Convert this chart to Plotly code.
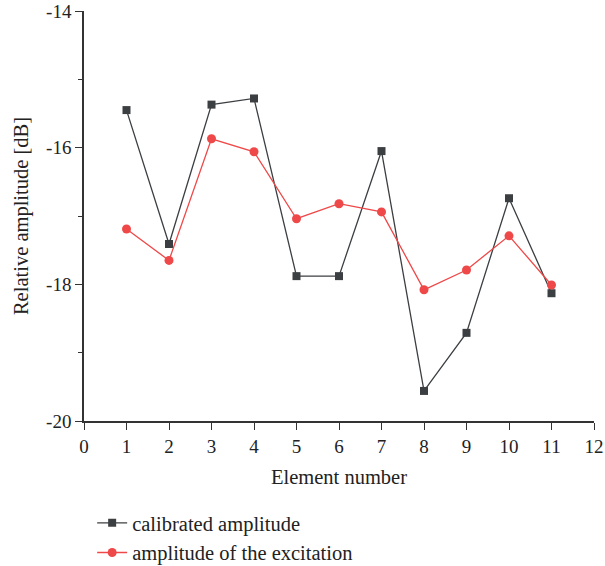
import plotly.graph_objects as go

elements = [1, 2, 3, 4, 5, 6, 7, 8, 9, 10, 11]
calibrated = [-15.45, -17.41, -15.37, -15.28, -17.88, -17.88, -16.05, -19.56, -18.71, -16.74, -18.13]
excitation = [-17.19, -17.65, -15.87, -16.06, -17.04, -16.82, -16.94, -18.08, -17.79, -17.29, -18.01]
y_tickvals = [-20, -18, -16, -14]
y_ticktext = ["-20", "-18", "-16", "-14"]

FONT = "Liberation Serif"
AX = "#333333"

fig = go.Figure()
fig.add_trace(go.Scatter(
    x=elements, y=calibrated, mode="lines+markers", name="calibrated amplitude",
    line=dict(color="#3c3f42", width=1.3),
    marker=dict(symbol="square", size=8, color="#3c3f42"),
))
fig.add_trace(go.Scatter(
    x=elements, y=excitation, mode="lines+markers", name="amplitude of the excitation",
    line=dict(color="#ef4848", width=1.3),
    marker=dict(symbol="circle", size=9, color="#ef4848"),
))

fig.update_layout(
    width=605, height=566,
    margin=dict(l=84, r=11, t=11, b=145, autoexpand=False),
    paper_bgcolor="white", plot_bgcolor="white",
    font=dict(family=FONT, size=19, color="#222222"),
    showlegend=True,
    legend=dict(
        orientation="v", x=0.016, xanchor="left", y=-0.2, yanchor="top",
        font=dict(family=FONT, size=20.5, color="#222222"),
        bgcolor="rgba(0,0,0,0)", tracegroupgap=0,
    ),
    xaxis=dict(
        range=[0, 12], tickmode="linear", tick0=0, dtick=1, automargin=False,
        showgrid=False, zeroline=False, showline=True, linecolor=AX, linewidth=1.5,
        ticks="outside", ticklen=7, tickwidth=1.3, tickcolor=AX,
        tickfont=dict(family=FONT, size=19),
        title=dict(text="Element number", font=dict(family=FONT, size=20.5), standoff=14),
    ),
    yaxis=dict(
        range=[-20, -14], tickmode="array", tickvals=y_tickvals, ticktext=y_ticktext, automargin=False,
        showgrid=False, zeroline=False, showline=True, linecolor=AX, linewidth=1.5,
        ticks="outside", ticklen=7, tickwidth=1.3, tickcolor=AX,
        minor=dict(ticks="outside", ticklen=4, tickwidth=1.3, tickcolor=AX, dtick=1, tick0=-20, showgrid=False),
        tickfont=dict(family=FONT, size=19),
        title=dict(text="Relative amplitude [dB]", font=dict(family=FONT, size=20.5), standoff=12),
    ),
)

fig.write_html("out.html")
